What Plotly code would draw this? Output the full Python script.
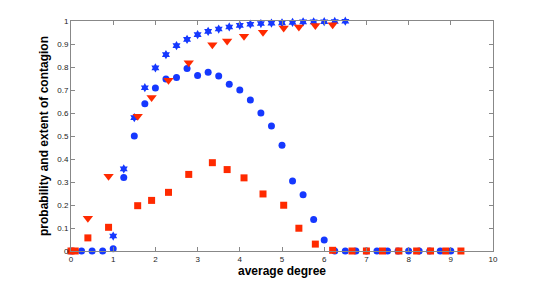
import plotly.graph_objects as go

# Blue circles (extent of contagion)
circ_x = [0.0, 0.25, 0.5, 0.75, 1.0, 1.25, 1.5, 1.75, 2.0, 2.25, 2.5, 2.75, 3.0, 3.25, 3.5, 3.75,
          4.0, 4.25, 4.5, 4.75, 5.0, 5.25, 5.5, 5.75, 6.0, 6.25, 6.5, 6.75, 7.0, 7.25, 7.5, 7.75,
          8.0, 8.25, 8.5, 8.75, 9.0]
circ_y = [0.0, 0.0, 0.0, 0.0, 0.01, 0.32, 0.50, 0.64, 0.709, 0.748, 0.754, 0.793, 0.763, 0.777, 0.761, 0.725,
          0.70, 0.657, 0.60, 0.543, 0.46, 0.304, 0.245, 0.137, 0.048, 0.0, 0.0, 0.0, 0.0, 0.0, 0.0, 0.0,
          0.0, 0.0, 0.0, 0.0, 0.0]

# Blue stars (probability of contagion)
star_x = [1.0, 1.25, 1.5, 1.75, 2.0, 2.25, 2.5, 2.75, 3.0, 3.25, 3.5, 3.75, 4.0, 4.25, 4.5, 4.75,
          5.0, 5.25, 5.5, 5.75, 6.0, 6.25, 6.5]
star_y = [0.065, 0.357, 0.58, 0.71, 0.796, 0.854, 0.893, 0.92, 0.941, 0.955, 0.965, 0.974, 0.981, 0.986,
          0.989, 0.991, 0.992, 0.994, 0.996, 0.996, 0.997, 0.998, 0.999]

# Red triangles
tri_x = [0.4, 0.89, 1.58, 1.91, 2.31, 2.79, 3.35, 3.70, 4.1, 4.55, 5.04, 5.40, 5.79, 6.2]
tri_y = [0.142, 0.325, 0.586, 0.667, 0.742, 0.819, 0.897, 0.913, 0.934, 0.951, 0.97, 0.974, 0.98, 0.984]

# Red squares
sq_x = [0.0, 0.1, 0.4, 0.89, 1.58, 1.91, 2.31, 2.79, 3.35, 3.70, 4.1, 4.55, 5.04, 5.40, 5.79, 6.2,
        6.66, 7.0, 7.38, 7.77, 8.19, 8.52, 8.88, 9.24]
sq_y = [0.0, 0.0, 0.057, 0.103, 0.197, 0.22, 0.255, 0.333, 0.384, 0.354, 0.318, 0.248, 0.199, 0.099, 0.03, 0.003,
        0.0, 0.0, 0.0, 0.0, 0.0, 0.0, 0.0, 0.0]

x_ticks = list(range(0, 11))
y_ticks = [0, 0.1, 0.2, 0.3, 0.4, 0.5, 0.6, 0.7, 0.8, 0.9, 1]
y_tick_labels = ["0", "0.1", "0.2", "0.3", "0.4", "0.5", "0.6", "0.7", "0.8", "0.9", "1"]

BLUE = "#1538ff"
RED = "#ff2a00"

fig = go.Figure()
fig.add_trace(go.Scatter(x=circ_x, y=circ_y, mode="markers",
                         marker=dict(symbol="circle", size=7, color=BLUE), cliponaxis=False))
fig.add_trace(go.Scatter(x=star_x, y=star_y, mode="markers",
                         marker=dict(symbol="hexagram", size=7, color=BLUE), cliponaxis=False))
fig.add_trace(go.Scatter(x=tri_x, y=tri_y, mode="markers",
                         marker=dict(symbol="triangle-down", size=9, color=RED), cliponaxis=False))
fig.add_trace(go.Scatter(x=sq_x, y=sq_y, mode="markers",
                         marker=dict(symbol="square", size=7, color=RED), cliponaxis=False))

axis_common = dict(showgrid=False, zeroline=False, showline=True, linecolor="#888888", linewidth=1,
                   mirror="ticks", ticks="inside", ticklen=4, tickcolor="#888888", automargin=False,
                   tickfont=dict(family="Liberation Sans, Arial", size=8, color="#222222"))

# The page body has an 8px margin, so the figure is sized/offset accordingly.
fig.update_layout(
    width=537, height=274,
    margin=dict(l=63, r=52, t=13, b=31),
    plot_bgcolor="white", paper_bgcolor="white",
    showlegend=False,
    font=dict(family="Liberation Sans, Arial", color="black"),
    xaxis=dict(range=[0, 10], tickvals=x_ticks, ticktext=[str(v) for v in x_ticks],
               title=dict(text="<b>average degree</b>", font=dict(size=12), standoff=2), **axis_common),
    yaxis=dict(range=[0, 1], tickvals=y_ticks, ticktext=y_tick_labels,
               title=dict(text="<b>probability and extent of contagion</b>", font=dict(size=12), standoff=6),
               **axis_common),
)

fig.write_html("out.html")
